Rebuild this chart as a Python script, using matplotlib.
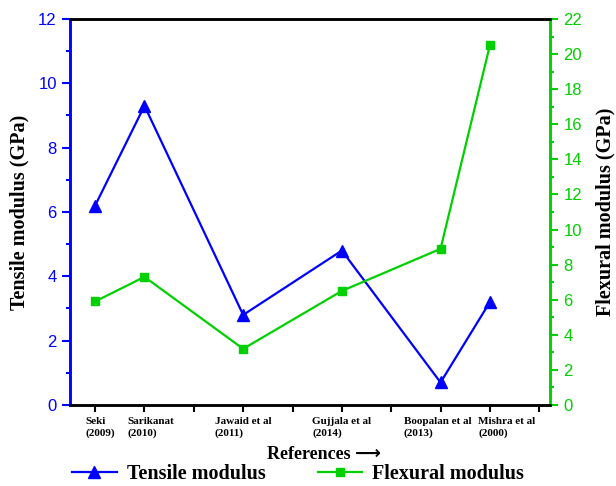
import matplotlib.pyplot as plt
from matplotlib.ticker import MultipleLocator
from matplotlib.transforms import ScaledTranslation

# positions of each study along the x axis (ticks 1..10)
ref_pos = [1, 2, 4, 6, 8, 9]
ref_labels = ["Seki\n(2009)", "Sarikanat\n(2010)", "Jawaid et al\n(2011)",
              "Gujjala et al\n(2014)", "Boopalan et al\n(2013)", "Mishra et al\n(2000)"]
tensile = [6.2, 9.3, 2.8, 4.8, 0.7, 3.2]
flexural = [5.9, 7.3, 3.2, 6.5, 8.9, 20.5]

blue = '#0000ff'
green = '#00d000'
serif = ['Liberation Serif', 'DejaVu Serif']
sans = ['Liberation Sans', 'DejaVu Sans']

fig = plt.figure(figsize=(6.16, 4.86), dpi=100)
ax = fig.add_axes([0.1136, 0.1667, 0.7794, 0.7943])
ax2 = ax.twinx()

l1, = ax.plot(ref_pos, tensile, color=blue, lw=1.6, marker='^', ms=8,
              label='Tensile modulus')
l2, = ax2.plot(ref_pos, flexural, color=green, lw=1.6, marker='s', ms=6,
               label='Flexural modulus')

ax.set_xlim(0.49, 10.22)
ax.set_ylim(0, 12)
ax2.set_ylim(0, 22)

ax.set_xticks(range(1, 11))
labels = [''] * 10
for p, t in zip(ref_pos, ref_labels):
    labels[p - 1] = t
ax.set_xticklabels(labels, fontfamily=serif, fontweight='bold', fontsize=8,
                   multialignment='left')
ax.tick_params(axis='x', direction='out', length=5, width=1.5, colors='black', pad=4)
# nudge crowded labels apart like the original layout
shifts = {1: 5, 2: 6, 8: -3, 9: 17}
for lab, pos in zip(ax.get_xticklabels(), range(1, 11)):
    if pos in shifts:
        lab.set_transform(lab.get_transform() +
                          ScaledTranslation(shifts[pos] / 100, 0, fig.dpi_scale_trans))

ax.yaxis.set_major_locator(MultipleLocator(2))
ax.yaxis.set_minor_locator(MultipleLocator(1))
ax2.yaxis.set_major_locator(MultipleLocator(2))
ax2.yaxis.set_minor_locator(MultipleLocator(1))

ax.tick_params(axis='y', which='major', direction='out', length=6, width=1.5,
               colors=blue, labelsize=12)
ax.tick_params(axis='y', which='minor', direction='out', length=3, width=1.5, colors=blue)
ax2.tick_params(axis='y', which='major', direction='out', length=6, width=1.5,
                colors=green, labelsize=12)
ax2.tick_params(axis='y', which='minor', direction='out', length=3, width=1.5, colors=green)
for lab in ax.get_yticklabels() + ax2.get_yticklabels():
    lab.set_fontfamily(sans)

for a in (ax, ax2):
    for s in a.spines.values():
        s.set_linewidth(1.8)
    a.spines['left'].set_color(blue)
    a.spines['right'].set_color(green)
    a.spines['top'].set_color('black')
    a.spines['bottom'].set_color('black')

ax.set_ylabel('Tensile modulus (GPa)', fontfamily=serif, fontweight='bold',
              fontsize=14.5, labelpad=6)
ax2.set_ylabel('Flexural modulus (GPa)', fontfamily=serif, fontweight='bold',
               fontsize=14.5, labelpad=10)
ax.set_xlabel('References \u27f6', fontfamily=['Liberation Serif', 'DejaVu Sans'],
              fontweight='bold', fontsize=13)
ax.xaxis.set_label_coords(0.53, -0.105)

fig.legend(handles=[l1, l2], loc='center', bbox_to_anchor=(0.484, 1 - 474 / 486),
           ncol=2, frameon=False, handlelength=2.2, handletextpad=0.5,
           columnspacing=2.6, borderpad=0.2,
           prop={'family': serif, 'weight': 'bold', 'size': 14.5})

fig.savefig('out.png', dpi=100)
